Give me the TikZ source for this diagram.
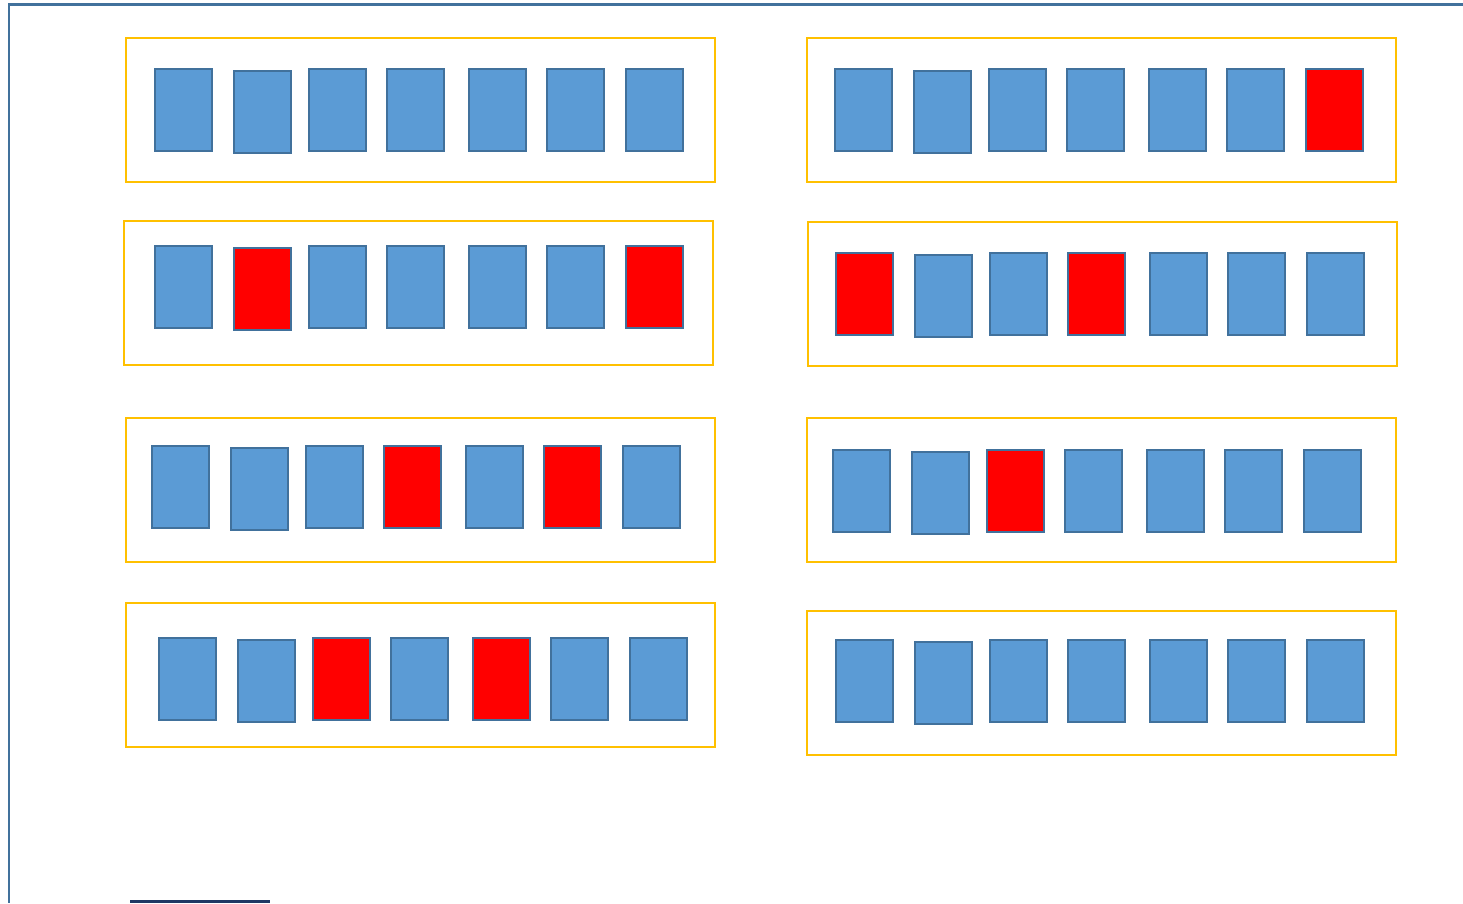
\documentclass[tikz,border=0pt]{standalone}
\usetikzlibrary{positioning}

\definecolor{cellblue}{HTML}{5B9BD5}
\definecolor{celledge}{HTML}{41719C}
\definecolor{framegold}{HTML}{FFC000}
\definecolor{pagenavy}{HTML}{1F3864}

% one row of seven cells: name, left x, top y, fill codes (b/r)
\newcommand{\cellrow}[4]{%
  \foreach \s [count=\i from 0] in {#4}{
    \pgfmathsetmacro{\dx}{{0,79,154,232,314,392,471}[\i]}
    \pgfmathsetmacro{\dy}{\i==1 ? 2 : 0}
    \node[cell\s] (#1-\i) at (#2+\dx, #3+\dy) {};
  }}

\begin{document}
\begin{tikzpicture}[
			x=1pt, y=-1pt,
			cell/.style  = {draw=celledge, line width=2pt, anchor=north west,
			                outer sep=0pt, inner sep=0pt,
			                minimum width=57pt, minimum height=82pt},
			cellb/.style = {cell, fill=cellblue},
			cellr/.style = {cell, fill=red},
			frame/.style = {draw=framegold, line width=2pt, inner sep=0pt,
			                minimum width=589pt, minimum height=144pt}
			]
			\useasboundingbox (0,0) rectangle (1463,903);
			
			%--- page edges ---
			\draw[celledge, line width=2.3pt] (8,4.5) -- (1463,4.5);
			\draw[celledge, line width=2.3pt] (8.7,4.5) -- (8.7,903);
			\draw[pagenavy, line width=3pt] (130,901.5) -- (270,901.5);
			
			%--- frames ---
			\node[frame] (fL1) at (420.5,110) {};
			\node[frame] (fL2) at (418,293)   {};
			\node[frame] (fL3) at (420.5,490) {};
			\node[frame] (fL4) at (420.5,675) {};
			
			\node[frame] (fR1) at (1101.5,110) {};
			\node[frame] (fR2) at (1102.5,294) {};
			\node[frame] (fR3) at (1101.5,490) {};
			\node[frame] (fR4) at (1101.5,683) {};
			
			%--- cells ---
			\cellrow{L1}{155}{69}{b,b,b,b,b,b,b}
			\cellrow{L2}{155}{246}{b,r,b,b,b,b,r}
			\cellrow{L3}{152}{446}{b,b,b,r,b,r,b}
			\cellrow{L4}{159}{638}{b,b,r,b,r,b,b}
			
			\cellrow{R1}{835}{69}{b,b,b,b,b,b,r}
			\cellrow{R2}{836}{253}{r,b,b,r,b,b,b}
			\cellrow{R3}{833}{450}{b,b,r,b,b,b,b}
			\cellrow{R4}{836}{640}{b,b,b,b,b,b,b}
		\end{tikzpicture}
\end{document}
